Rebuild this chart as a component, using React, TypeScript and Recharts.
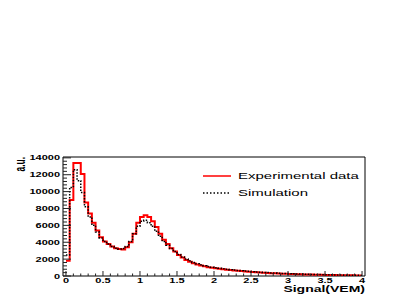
import React from "react";
import { ComposedChart, Line, XAxis, YAxis, ReferenceArea, Legend } from "recharts";

// lower bin edges (VEM), bin width 0.05
const binLow = [
  0, 0.05, 0.1, 0.15, 0.2, 0.25, 0.3, 0.35, 0.4, 0.45,
  0.5, 0.55, 0.6, 0.65, 0.7, 0.75, 0.8, 0.85, 0.9, 0.95,
  1, 1.05, 1.1, 1.15, 1.2, 1.25, 1.3, 1.35, 1.4, 1.45,
  1.5, 1.55, 1.6, 1.65, 1.7, 1.75, 1.8, 1.85, 1.9, 1.95,
  2, 2.05, 2.1, 2.15, 2.2, 2.25, 2.3, 2.35, 2.4, 2.45,
  2.5, 2.55, 2.6, 2.65, 2.7, 2.75, 2.8, 2.85, 2.9, 2.95,
  3, 3.05, 3.1, 3.15, 3.2, 3.25, 3.3, 3.35, 3.4, 3.45,
  3.5, 3.55, 3.6, 3.65, 3.7, 3.75, 3.8, 3.85, 3.9, 3.95,
];
const binHigh = 4;

const experimental = [
  1800, 9000, 13400, 13400, 12100, 8700, 7400, 6300, 5400, 4600,
  4100, 3800, 3500, 3300, 3200, 3150, 3400, 4000, 5000, 6300,
  7000, 7200, 7000, 6500, 5800, 5000, 4300, 3800, 3300, 2900,
  2500, 2200, 1900, 1700, 1500, 1350, 1250, 1150, 1050, 980,
  920, 860, 800, 750, 700, 660, 620, 580, 540, 510,
  480, 450, 420, 390, 370, 340, 320, 300, 280, 260,
  250, 230, 220, 200, 190, 180, 170, 160, 150, 140,
  130, 120, 110, 100, 95, 90, 80, 75, 70, 60,
];

const simulation = [
  2500, 10500, 12600, 11300, 9900, 8200, 7000, 6000, 5200, 4500,
  4100, 3800, 3500, 3300, 3200, 3250, 3500, 4100, 5000, 5900,
  6500, 6600, 6300, 5900, 5300, 4700, 4100, 3650, 3250, 2900,
  2550, 2250, 2000, 1800, 1600, 1450, 1330, 1220, 1120, 1040,
  970, 910, 850, 800, 750, 700, 660, 620, 580, 550,
  510, 480, 450, 420, 400, 370, 350, 330, 310, 290,
  270, 255, 240, 225, 210, 200, 185, 175, 165, 155,
  145, 135, 125, 115, 108, 100, 92, 85, 78, 70,
];

const xMajorTicks = [0, 0.5, 1, 1.5, 2, 2.5, 3, 3.5, 4];
const xMinorTicks = [
  0.1, 0.2, 0.3, 0.4, 0.6, 0.7, 0.8, 0.9, 1.1, 1.2, 1.3, 1.4, 1.6, 1.7, 1.8, 1.9,
  2.1, 2.2, 2.3, 2.4, 2.6, 2.7, 2.8, 2.9, 3.1, 3.2, 3.3, 3.4, 3.6, 3.7, 3.8, 3.9,
];
const yMajorTicks = [0, 2000, 4000, 6000, 8000, 10000, 12000, 14000];
const yMinorTicks = [
  400, 800, 1200, 1600, 2400, 2800, 3200, 3600, 4400, 4800, 5200, 5600,
  6400, 6800, 7200, 7600, 8400, 8800, 9200, 9600, 10400, 10800, 11200, 11600,
  12400, 12800, 13200, 13600,
];

const X_DOMAIN: [number, number] = [-0.04, 4.04];
const Y_DOMAIN: [number, number] = [0, 14100];

const FONT = "'Liberation Sans', Arial, Helvetica, sans-serif";
const SQUASH = 0.6; // the original render is squeezed vertically

// plot frame: left 63, right 365, top 157, bottom 276
const PLOT_LEFT = 63;
const PLOT_RIGHT = 365;
const PLOT_TOP = 157;
const PLOT_BOTTOM = 276;

const rows = binLow.map((x, i) => ({ x, exp: experimental[i], sim: simulation[i] }));
rows.push({
  x: binHigh,
  exp: experimental[experimental.length - 1],
  sim: simulation[simulation.length - 1],
});

function XTick(props: any) {
  const { x, payload } = props;
  const y = PLOT_BOTTOM;
  const major = xMajorTicks.includes(payload.value);
  return (
    <g>
      <line x1={x} x2={x} y1={y} y2={y - (major ? 5 : 2.5)} stroke="#222" strokeWidth={1} />
      {major && (
        <text
          transform={`translate(${x},${y + 6.5}) scale(1,${SQUASH})`}
          textAnchor="middle"
          fontFamily={FONT}
          fontWeight="bold"
          fontSize={11}
          fill="#000"
        >
          {String(payload.value)}
        </text>
      )}
    </g>
  );
}

function YTick(props: any) {
  const { y, payload } = props;
  const x = PLOT_LEFT;
  const major = yMajorTicks.includes(payload.value);
  return (
    <g>
      <line x1={x} x2={x + (major ? 8 : 4)} y1={y} y2={y} stroke="#222" strokeWidth={1} />
      {major && (
        <text
          transform={`translate(${x - 3},${y + 2.5}) scale(1,${SQUASH})`}
          textAnchor="end"
          fontFamily={FONT}
          fontWeight="bold"
          fontSize={11}
          fill="#000"
        >
          {payload.value}
        </text>
      )}
    </g>
  );
}

function XTitle() {
  return (
    <text
      transform={`translate(${PLOT_RIGHT},292) scale(1,${SQUASH})`}
      textAnchor="end"
      fontFamily={FONT}
      fontWeight="bold"
      fontSize={14}
      fill="#000"
    >
      Signal(VEM)
    </text>
  );
}

function YTitle() {
  return (
    <text
      transform={`translate(25,${PLOT_TOP}) scale(1,${SQUASH}) rotate(-90)`}
      textAnchor="end"
      fontFamily={FONT}
      fontWeight="bold"
      fontSize={14}
      fill="#000"
    >
      a.u.
    </text>
  );
}

function LegendBox() {
  return (
    <svg width={170} height={36} style={{ display: "block" }}>
      <line x1={3} x2={31} y1={11} y2={11} stroke="#ff0000" strokeWidth={1.5} />
      <text
        transform={`translate(38,13.5) scale(1,${SQUASH})`}
        fontFamily={FONT}
        fontSize={15}
        fill="#000"
      >
        Experimental data
      </text>
      <line x1={3} x2={31} y1={28} y2={28} stroke="#000" strokeWidth={1.5} strokeDasharray="1.5 2" />
      <text
        transform={`translate(38,31) scale(1,${SQUASH})`}
        fontFamily={FONT}
        fontSize={15}
        fill="#000"
      >
        Simulation
      </text>
    </svg>
  );
}

export default function App() {
  return (
    <div style={{ position: "absolute", left: 0, top: 0, width: 409, height: 300, background: "#fff" }}>
      <ComposedChart
        width={409}
        height={300}
        data={rows}
        margin={{ top: PLOT_TOP, right: 409 - PLOT_RIGHT, bottom: 0, left: 3 }}
      >
        <XAxis
          dataKey="x"
          type="number"
          domain={X_DOMAIN}
          allowDataOverflow
          ticks={[...xMajorTicks, ...xMinorTicks]}
          interval={0}
          height={300 - PLOT_BOTTOM}
          tickLine={false}
          axisLine={false}
          tick={<XTick />}
          label={() => <XTitle />}
        />
        <YAxis
          type="number"
          domain={Y_DOMAIN}
          allowDataOverflow
          ticks={[...yMajorTicks, ...yMinorTicks]}
          interval={0}
          width={PLOT_LEFT - 3}
          tickLine={false}
          axisLine={false}
          tick={<YTick />}
          label={() => <YTitle />}
        />
        <ReferenceArea
          x1={X_DOMAIN[0]}
          x2={X_DOMAIN[1]}
          y1={Y_DOMAIN[0]}
          y2={Y_DOMAIN[1]}
          fill="none"
          stroke="#000"
          strokeWidth={1}
          ifOverflow="visible"
        />
        <Legend
          layout="vertical"
          verticalAlign="middle"
          align="center"
          content={() => <LegendBox />}
          wrapperStyle={{ position: "absolute", left: 200, top: 165, width: 170, height: 36 }}
        />
        <Line
          dataKey="exp"
          name="Experimental data"
          type="stepAfter"
          stroke="#ff0000"
          strokeWidth={2}
          dot={false}
          activeDot={false}
          isAnimationActive={false}
        />
        <Line
          dataKey="sim"
          name="Simulation"
          type="stepAfter"
          stroke="#000"
          strokeWidth={1.5}
          strokeDasharray="1.5 1.5"
          dot={false}
          activeDot={false}
          isAnimationActive={false}
        />
      </ComposedChart>
    </div>
  );
}
